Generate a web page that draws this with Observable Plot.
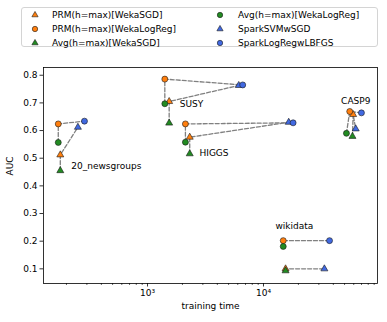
<!DOCTYPE html>
<html><head><meta charset="utf-8">
<script src="https://cdn.jsdelivr.net/npm/d3@7"></script>
<script src="https://cdn.jsdelivr.net/npm/@observablehq/plot@0.6"></script>
<style>
body{margin:0;background:#fff;font-family:"DejaVu Sans",sans-serif;}
#wrap{position:relative;width:387px;height:322px;}
#legend{position:absolute;left:21px;top:7px;width:355px;height:38px;border:1px solid #d4d4d4;border-radius:3px;background:#fff;}
.item{position:absolute;font-size:9px;line-height:14px;height:14px;white-space:nowrap;color:#000;}
.mk{position:absolute;}
</style></head><body>
<div id="wrap"><div id="chart"></div><div id="legend"></div></div>
<script>
const datasets = ["20_newsgroups", "SUSY", "HIGGS", "CASP9", "wikidata"];
const seriesNames = ["PRM(h=max)[WekaSGD]", "PRM(h=max)[WekaLogReg]", "Avg(h=max)[WekaSGD]",
                     "Avg(h=max)[WekaLogReg]", "SparkSVMwSGD", "SparkLogRegwLBFGS"];
const seriesColors = ["#ff7f0e", "#ff7f0e", "#228b22", "#228b22", "#4169e1", "#4169e1"];
const seriesSymbols = ["triangle", "circle", "triangle", "circle", "triangle", "circle"];

// training time (s) and AUC per series, in dataset order
const prmSgdTime  = [177, 1537, 2312, 59300, 15500];
const prmSgdAuc   = [0.512, 0.705, 0.576, 0.658, 0.100];
const prmLogTime  = [170, 1410, 2122, 55400, 14800];
const prmLogAuc   = [0.624, 0.786, 0.624, 0.669, 0.202];
const avgSgdTime  = [177, 1537, 2312, 58500, 15500];
const avgSgdAuc   = [0.455, 0.627, 0.516, 0.579, 0.093];
const avgLogTime  = [170, 1410, 2122, 51900, 14800];
const avgLogAuc   = [0.557, 0.697, 0.558, 0.590, 0.181];
const svmTime     = [251, 6120, 16500, 62400, 33500];
const svmAuc      = [0.612, 0.763, 0.630, 0.606, 0.100];
const lbfgsTime   = [286, 6620, 18000, 69900, 37100];
const lbfgsAuc    = [0.634, 0.765, 0.628, 0.664, 0.202];

const seriesTimes = [prmSgdTime, prmLogTime, avgSgdTime, avgLogTime, svmTime, lbfgsTime];
const seriesAucs  = [prmSgdAuc, prmLogAuc, avgSgdAuc, avgLogAuc, svmAuc, lbfgsAuc];

// dataset label anchors (data units)
const labelTime = [220, 1897, 2805, 46700, 12680];
const labelAuc  = [0.470, 0.694, 0.517, 0.706, 0.253];

const yTicks = [0.1, 0.2, 0.3, 0.4, 0.5, 0.6, 0.7, 0.8];
const majorTicks = [1000, 10000];
const majorTickLabels = ["10³", "10⁴"];
const minorTicks = [200,300,400,500,600,700,800,900,2000,3000,4000,5000,6000,7000,8000,9000,
                    20000,30000,40000,50000,60000,70000,80000,90000];

// connecting dashed lines: Avg -> PRM -> Spark for LogReg and SGD families
const lineRows = [];
datasets.forEach((d, i) => {
  [[3, 1, 5], [2, 0, 4]].forEach((chain, k) => {
    chain.forEach(s => lineRows.push({z: d + k, t: seriesTimes[s][i], auc: seriesAucs[s][i]}));
  });
});

const dotMarks = seriesNames.map((name, s) =>
  Plot.dot(datasets.map((d, i) => ({t: seriesTimes[s][i], auc: seriesAucs[s][i]})), {
    x: "t", y: "auc", symbol: seriesSymbols[s], fill: seriesColors[s],
    stroke: "#1a1a1a", strokeWidth: 0.6, r: seriesSymbols[s] === "circle" ? 3.0 : 2.6
  })
);

const labelRows = datasets.map((d, i) => ({name: d, t: labelTime[i], auc: labelAuc[i]}));

const chart = Plot.plot({
  width: 387, height: 322,
  marginTop: 67, marginBottom: 39, marginLeft: 43, marginRight: 10,
  style: {fontFamily: "DejaVu Sans", fontSize: "9px", color: "#000", background: "transparent"},
  x: {type: "log", domain: [126.8, 96160]},
  y: {domain: [0.047, 0.828]},
  marks: [
    Plot.line(lineRows, {x: "t", y: "auc", z: "z", stroke: "#808080", strokeWidth: 1.3, strokeDasharray: "4,2"}),
    ...dotMarks,
    Plot.text(labelRows, {x: "t", y: "auc", text: "name", textAnchor: "start", fontSize: 9, fill: "#000"}),
    Plot.frame({stroke: "#000", strokeWidth: 0.8}),
    Plot.axisY(yTicks, {tickSize: 3.5, tickPadding: 2.5, tickFormat: d => d.toFixed(1), label: null, strokeWidth: 0.8}),
    Plot.axisX(minorTicks, {tickSize: 2, tickFormat: () => "", label: null, strokeWidth: 0.6}),
    Plot.axisX(majorTicks, {tickSize: 3.5, tickPadding: 2.5, tickFormat: d => majorTickLabels[majorTicks.indexOf(d)], label: null, strokeWidth: 0.8}),
    Plot.text(["AUC"], {text: d => d, frameAnchor: "left", dx: -33, rotate: -90, fontSize: 9, fill: "#000"}),
    Plot.text(["training time"], {text: d => d, frameAnchor: "bottom", dy: 25, fontSize: 9, fill: "#000"})
  ]
});
document.getElementById("chart").appendChild(chart);

// legend (2 columns, column-major order like matplotlib ncol=2)
const legend = document.getElementById("legend");
const colMarkerX = [13, 198], colTextX = [30, 216], rowY = [7, 21, 34.5];
seriesNames.forEach((name, s) => {
  const col = Math.floor(s / 3), row = s % 3;
  const svg = d3.create("svg").attr("class", "mk").attr("width", 10).attr("height", 10)
    .style("left", (colMarkerX[col] - 5) + "px").style("top", (rowY[row] - 5) + "px");
  const type = seriesSymbols[s] === "circle" ? d3.symbolCircle : d3.symbolTriangle;
  const size = seriesSymbols[s] === "circle" ? Math.PI * 2.7 * 2.7 : Math.PI * 2.3 * 2.3;
  svg.append("path").attr("d", d3.symbol(type, size)()).attr("transform", "translate(5,5)")
    .attr("fill", seriesColors[s]).attr("stroke", "#1a1a1a").attr("stroke-width", 0.6);
  legend.appendChild(svg.node());
  const div = document.createElement("div");
  div.className = "item";
  div.style.left = colTextX[col] + "px";
  div.style.top = (rowY[row] - 7) + "px";
  div.textContent = name;
  legend.appendChild(div);
});
</script>
</body></html>
